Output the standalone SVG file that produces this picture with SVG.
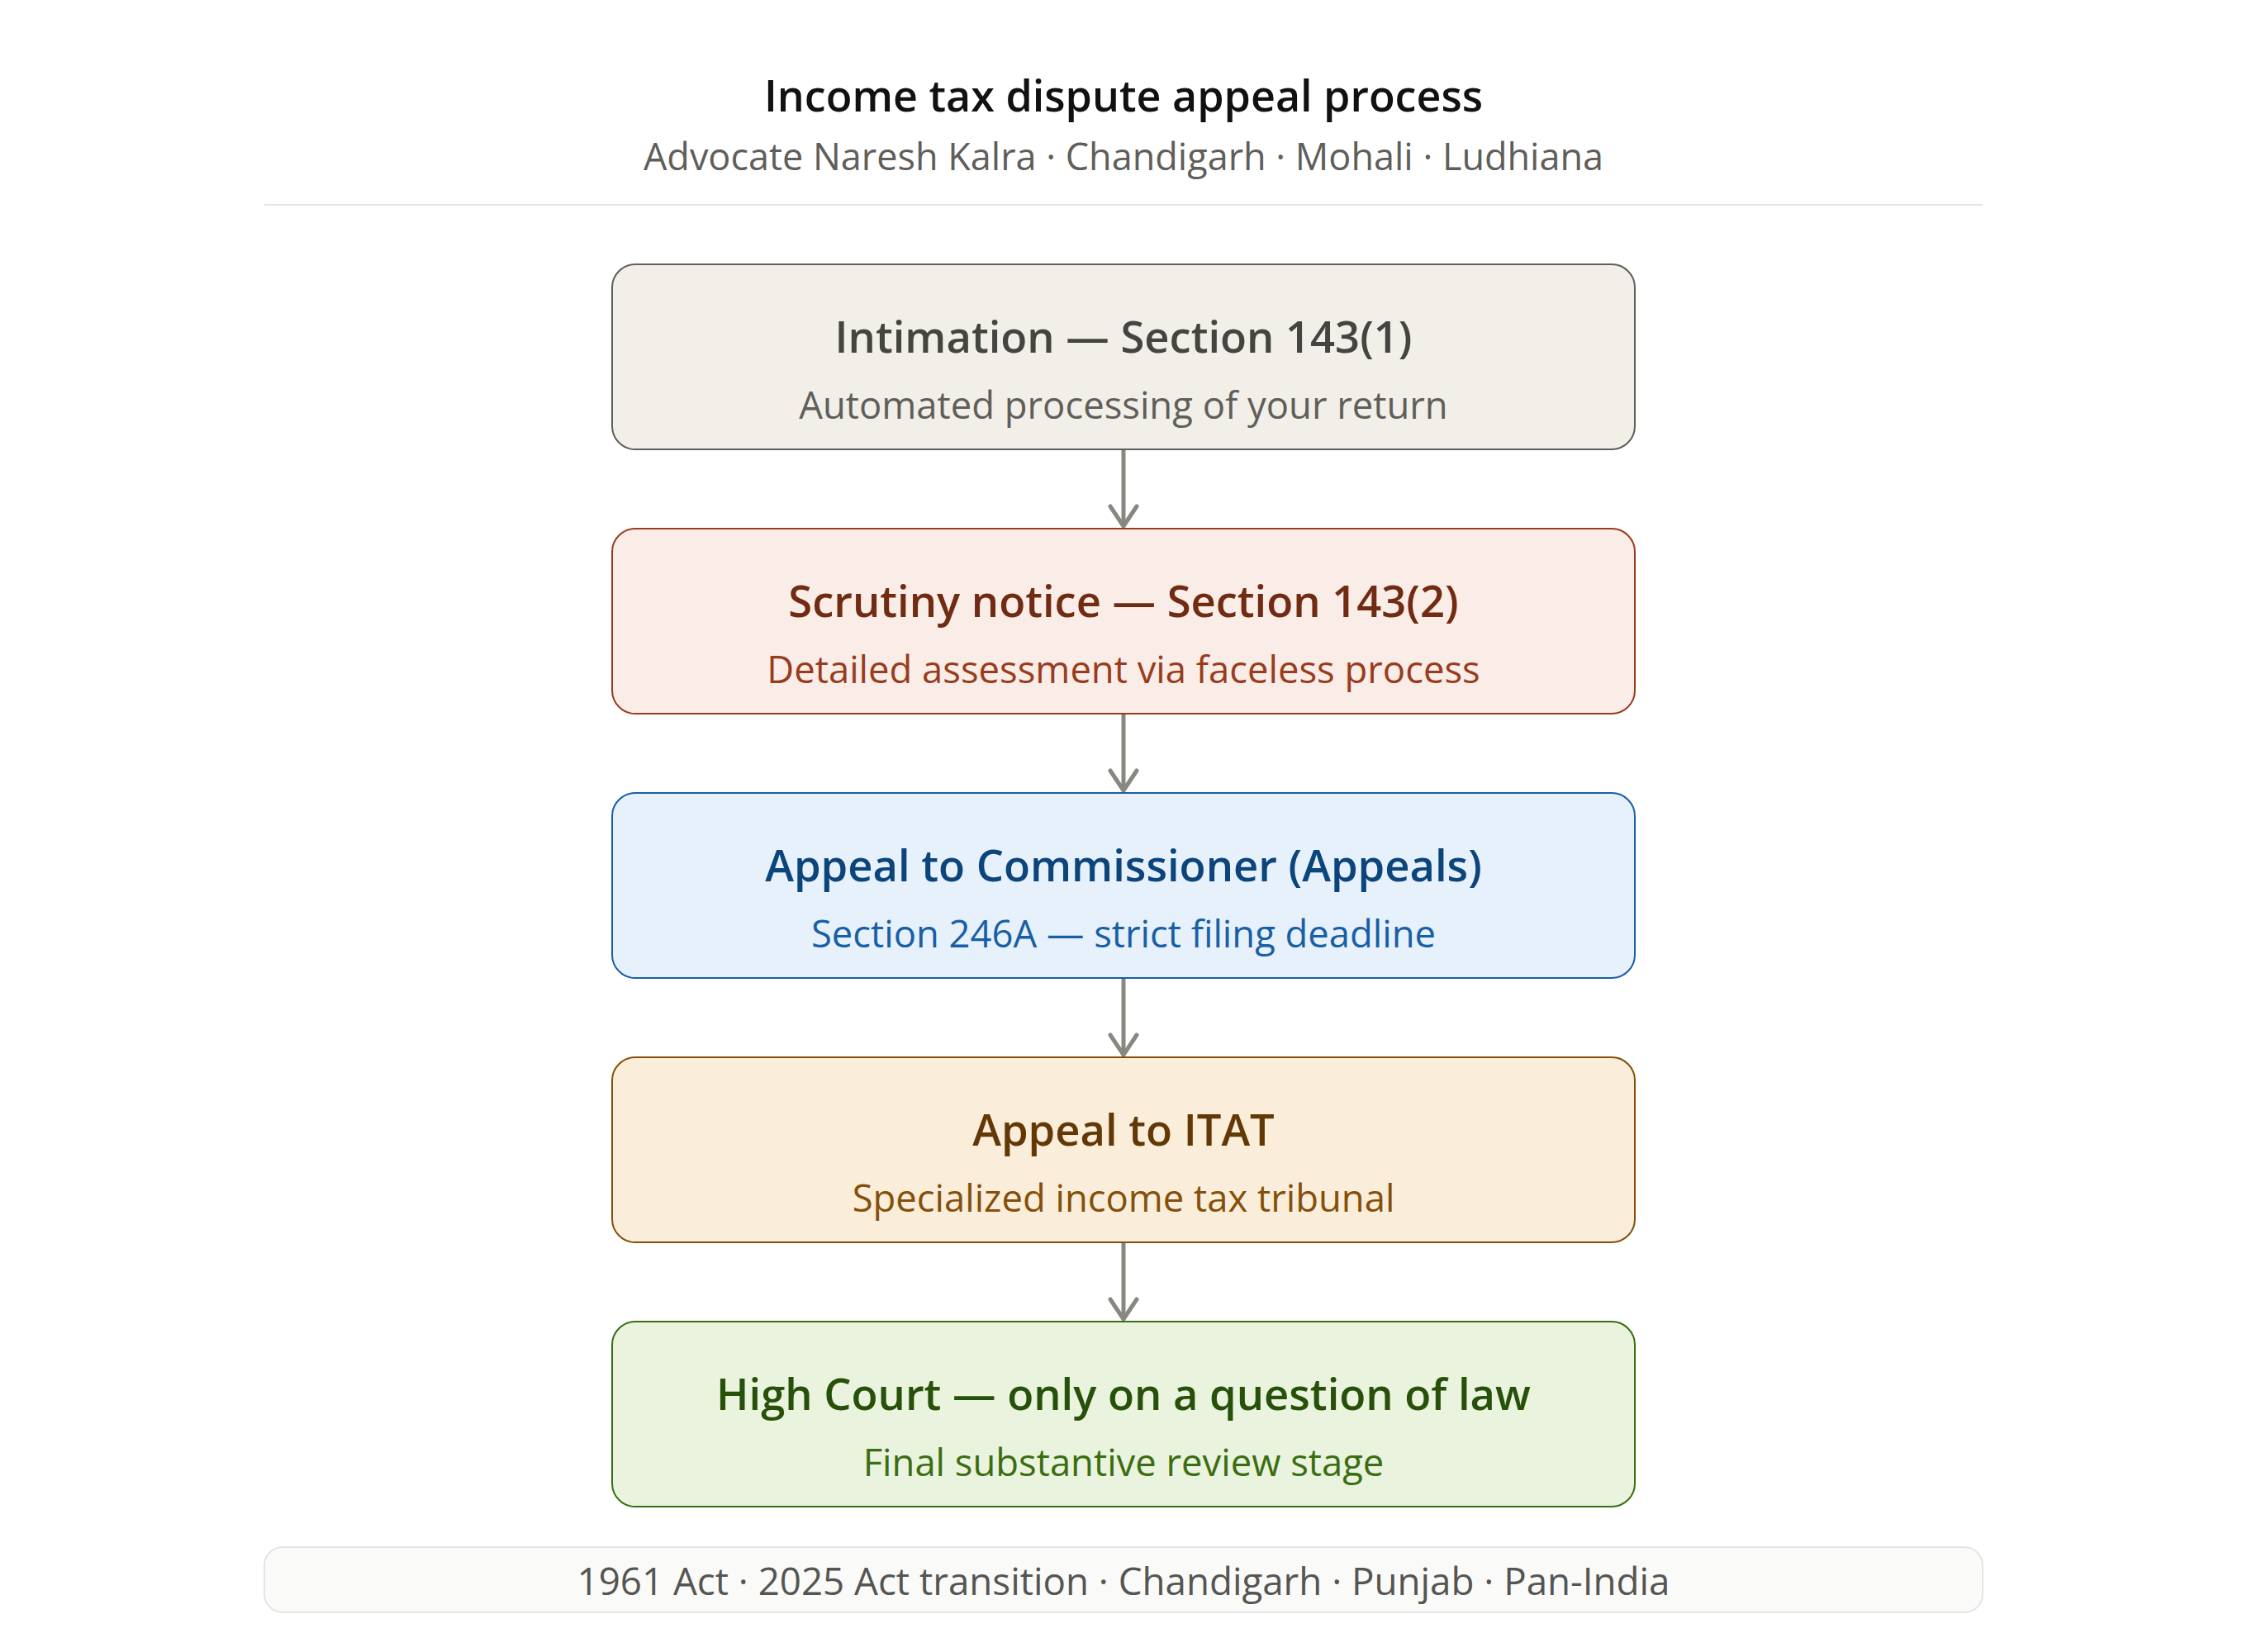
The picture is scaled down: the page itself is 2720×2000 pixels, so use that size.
<svg xmlns="http://www.w3.org/2000/svg" width="2720" height="2000" viewBox="0 0 2720 2000">
<defs>
<style>
text{font-family:"Open Sans","Noto Sans","Liberation Sans",sans-serif;text-anchor:middle}
.t{font-size:52px;font-weight:600;fill:#111111}
.st{font-size:45px;font-weight:400;fill:#5f5e5a}
.nt{font-size:52.5px;font-weight:600}
.ns{font-size:45.4px;font-weight:400}
.box{stroke-width:2}
.conn{stroke:#888780;stroke-width:5;fill:none}
.g1 rect{fill:#f1efe8;stroke:#5f5e5a}.g1 .nt{fill:#444441}.g1 .ns{fill:#5f5e5a}
.g2 rect{fill:#faece7;stroke:#993c1d}.g2 .nt{fill:#712b13}.g2 .ns{fill:#993c1d}
.g3 rect{fill:#e6f1fb;stroke:#185fa5}.g3 .nt{fill:#0c447c}.g3 .ns{fill:#185fa5}
.g4 rect{fill:#faeeda;stroke:#854f0b}.g4 .nt{fill:#633806}.g4 .ns{fill:#854f0b}
.g5 rect{fill:#eaf3de;stroke:#3b6d11}.g5 .nt{fill:#27500a}.g5 .ns{fill:#3b6d11}
</style>
<marker id="arr" markerUnits="userSpaceOnUse" markerWidth="60" markerHeight="60" viewBox="-40 -30 60 60" refX="0" refY="0" orient="auto" overflow="visible">
<path d="M-24,-16 L0,0 L-24,16" fill="none" stroke="#888780" stroke-width="5" stroke-linecap="round" stroke-linejoin="round"/>
</marker>
</defs>
<rect width="2720" height="2000" fill="#ffffff"/>
<g id="header">
<text class="t" x="1360" y="135">Income tax dispute appeal process</text>
<text class="st" x="1360" y="206">Advocate Naresh Kalra · Chandigarh · Mohali · Ludhiana</text>
<line x1="320" y1="248" x2="2400" y2="248" stroke="#e5e5e5" stroke-width="2"/>
</g>
<g id="connectors">
<line class="conn" x1="1360" y1="545" x2="1360" y2="637" marker-end="url(#arr)"/>
<line class="conn" x1="1360" y1="865" x2="1360" y2="957" marker-end="url(#arr)"/>
<line class="conn" x1="1360" y1="1185" x2="1360" y2="1277" marker-end="url(#arr)"/>
<line class="conn" x1="1360" y1="1505" x2="1360" y2="1597" marker-end="url(#arr)"/>
</g>
<g id="node1" class="g1">
<rect class="box" x="741" y="320" width="1238" height="224" rx="28"/>
<text class="nt" x="1360" y="427">Intimation — Section 143(1)</text>
<text class="ns" x="1360" y="507">Automated processing of your return</text>
</g>
<g id="node2" class="g2">
<rect class="box" x="741" y="640" width="1238" height="224" rx="28"/>
<text class="nt" x="1360" y="747">Scrutiny notice — Section 143(2)</text>
<text class="ns" x="1360" y="827">Detailed assessment via faceless process</text>
</g>
<g id="node3" class="g3">
<rect class="box" x="741" y="960" width="1238" height="224" rx="28"/>
<text class="nt" x="1360" y="1067">Appeal to Commissioner (Appeals)</text>
<text class="ns" x="1360" y="1147">Section 246A — strict filing deadline</text>
</g>
<g id="node4" class="g4">
<rect class="box" x="741" y="1280" width="1238" height="224" rx="28"/>
<text class="nt" x="1360" y="1387">Appeal to ITAT</text>
<text class="ns" x="1360" y="1467">Specialized income tax tribunal</text>
</g>
<g id="node5" class="g5">
<rect class="box" x="741" y="1600" width="1238" height="224" rx="28"/>
<text class="nt" x="1360" y="1707">High Court — only on a question of law</text>
<text class="ns" x="1360" y="1787">Final substantive review stage</text>
</g>
<g id="footer">
<rect x="320" y="1873" width="2080" height="79" rx="22" fill="#fafaf8" stroke="#e5e5e5" stroke-width="2"/>
<text x="1360" y="1931" style="font-size:45.7px;fill:#555552">1961 Act · 2025 Act transition · Chandigarh · Punjab · Pan-India</text>
</g>
</svg>
